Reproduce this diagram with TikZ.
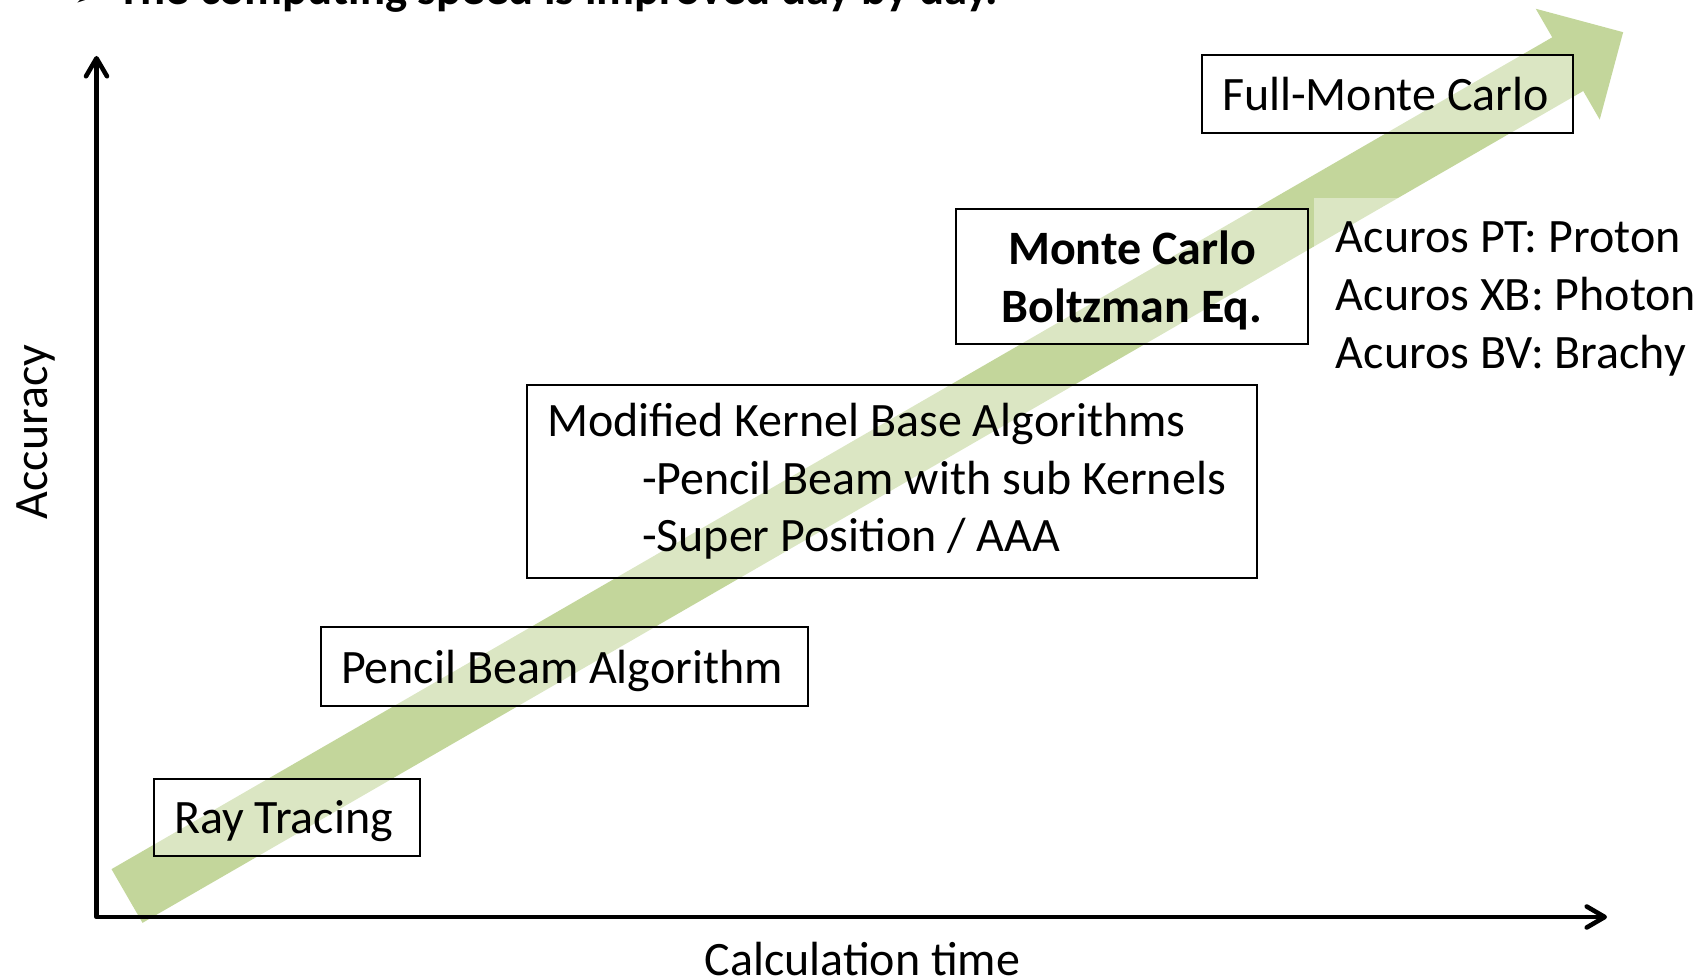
\documentclass[tikz,border=0pt]{standalone}
\usepackage{fontspec}
\setmainfont{Carlito}
\newfontfamily\bulletfont{DejaVu Sans}
\usetikzlibrary{arrows.meta}
\definecolor{arrowgreen}{RGB}{195,214,155}
\newcommand{\txtsize}{\fontsize{13.65}{16.4}\selectfont}
\newcommand{\headsize}{\fontsize{13.3}{16.4}\selectfont}
\newcommand{\ind}{\hspace*{9.5mm}}
\tikzset{
  barb/.tip={Straight Barb[length=1.8mm,width=2.1mm,round]},
  axisline/.style={line width=1.3pt, line join=round},
  algobox/.style={draw, line width=0.55pt, fill=white, fill opacity=0.4, text opacity=1,
    font=\txtsize, inner xsep=2mm, inner ysep=0pt, text depth=0pt, align=flush left},
  plaintext/.style={font=\txtsize, inner sep=0pt},
}
\begin{document}
\begin{tikzpicture}
\useasboundingbox (0,0) rectangle (17.06,9.79);
%
% wide green trend arrow (30 degrees)
\coordinate (tail) at (1.27,0.83);
\begin{scope}[shift={(tail)},rotate=30]
  \fill[arrowgreen] (0,-0.31) -- (16.636,-0.31) -- (16.636,-0.64) -- (17.276,0)
    -- (16.636,0.64) -- (16.636,0.31) -- (0,0.31) -- cycle;
\end{scope}
%
% algorithm boxes
\node[algobox, text width=2.26cm, minimum height=0.77cm] (ray) at (2.87,1.615) {Ray Tracing};
\node[algobox, text width=4.47cm, minimum height=0.79cm] (pencil) at (5.645,3.125) {Pencil Beam Algorithm};
\node[algobox, text depth=, text width=6.90cm, minimum height=1.93cm] (kernel) at (8.92,4.975)
  {Modified Kernel Base Algorithms\\ \ind-Pencil Beam with sub Kernels\\ \ind-Super Position / AAA};
\node[algobox, align=center, font=\txtsize\bfseries, minimum width=3.52cm, minimum height=1.35cm] (mc) at (11.32,7.025)
  {Monte Carlo\\Boltzman Eq.};
\node[algobox, text width=3.31cm, minimum height=0.78cm] (fullmc) at (13.875,8.85) {Full-Monte Carlo};
\node[algobox, draw=none, text depth=, align=left, anchor=north west, inner xsep=2.2mm, inner ysep=2.4mm] (acuros) at (13.13,7.82)
  {Acuros PT: Proton\\Acuros XB: Photon\\Acuros BV: Brachy};
%
% axes
\coordinate (origin) at (0.965,0.62);
\coordinate (ytip) at (0.965,9.23);
\coordinate (xtip) at (16.07,0.62);
\draw[axisline, barb-barb] (ytip) -- (origin) -- (xtip);
\node[plaintext, rotate=90, anchor=base] (ylabel) at (0.47,5.47) {Accuracy};
\node[plaintext, anchor=base] (xlabel) at (8.625,0.03) {Calculation time};
%
% headline, cut by the top edge
\node[plaintext, font=\bulletfont\headsize, anchor=base west] (bullet) at (0.72,9.71) {➢};
\node[plaintext, font=\headsize\bfseries, anchor=base west] (headline) at (1.17,9.74)
  {The computing speed is improved day by day.};
\end{tikzpicture}
\end{document}
